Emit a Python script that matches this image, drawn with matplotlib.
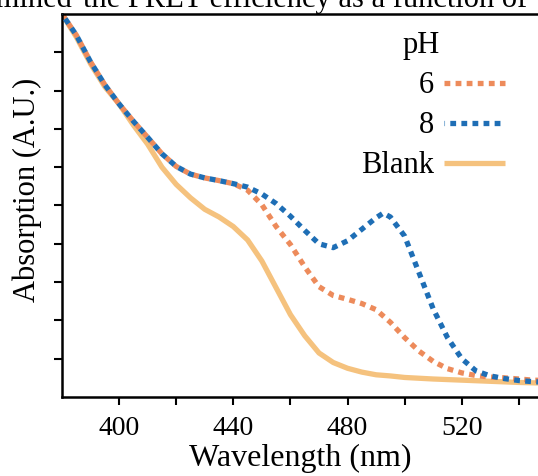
import numpy as np
import matplotlib
matplotlib.use("Agg")
import matplotlib.pyplot as plt

# wavelengths (nm) and absorption
wl6 = [380, 385, 390, 395, 400, 405, 410, 415, 420, 425, 430, 435, 440,
       445, 450, 455, 460, 465, 470, 475, 480, 485, 490, 495, 500,
       505, 510, 515, 520, 525, 530, 535, 540, 545, 550]
ph6 = [10.0, 9.45, 8.75, 8.15, 7.65, 7.2, 6.78, 6.35, 6.02, 5.82, 5.72, 5.65, 5.57,
       5.40, 5.02, 4.45, 3.98, 3.40, 2.88, 2.65, 2.55, 2.44, 2.28, 1.95, 1.55,
       1.20, 0.93, 0.74, 0.63, 0.56, 0.52, 0.50, 0.47, 0.44, 0.43]

wl8 = [380, 385, 390, 395, 400, 405, 410, 415, 420, 425, 430, 435, 440,
       445, 450, 455, 460, 465, 470, 475, 480, 485, 490, 492.5, 495, 500,
       505, 510, 515, 520, 525, 530, 535, 540, 545, 550]
ph8 = [10.0, 9.45, 8.75, 8.15, 7.65, 7.2, 6.78, 6.35, 6.02, 5.82, 5.72, 5.65, 5.57,
       5.48, 5.30, 5.05, 4.72, 4.35, 4.00, 3.90, 4.08, 4.38, 4.68, 4.80, 4.70, 4.20,
       3.25, 2.30, 1.55, 1.00, 0.68, 0.55, 0.48, 0.43, 0.40, 0.38]

wl_blank = [380, 385, 390, 395, 400, 405, 410, 415, 420, 425, 430, 435, 440,
            445, 450, 455, 460, 465, 470, 475, 480, 485, 490, 495, 500,
            510, 520, 530, 540, 550]
blank = [10.0, 9.4, 8.7, 8.1, 7.65, 7.1, 6.6, 6.0, 5.55, 5.2, 4.9, 4.7, 4.45,
         4.1, 3.55, 2.85, 2.15, 1.6, 1.15, 0.9, 0.75, 0.65, 0.58, 0.55, 0.51,
         0.47, 0.44, 0.41, 0.38, 0.36]

xticks = [400, 420, 440, 460, 480, 500, 520, 540]
xticklabels = ["400", "", "440", "", "480", "", "520", ""]

c6 = "#ED8B5B"
c8 = "#1E6EB5"
cb = "#F5C27E"

plt.rcParams["font.family"] = ["Liberation Serif", "DejaVu Serif"]

fig = plt.figure(figsize=(5.38, 4.76), dpi=100)
ax = fig.add_axes([62/538, 79/476, 476/538, 383/476])

ax.plot(wl_blank, blank, color=cb, lw=3.8, solid_capstyle="butt", label="Blank", zorder=1)
ax.plot(wl6, ph6, color=c6, lw=3.8, linestyle=(0, (1.1, 1.0)), dash_capstyle="butt", label="6", zorder=2)
ax.plot(wl8, ph8, color=c8, lw=3.8, linestyle=(1.0, (1.1, 1.0)), dash_capstyle="butt", label="8", zorder=3)

ax.set_xlim(380, 546.7)
ax.set_ylim(0, 10)
ax.set_xticks(xticks)
ax.set_xticklabels(xticklabels)
ax.set_yticks(np.arange(1, 10))
ax.set_yticklabels([])
ax.tick_params(direction="out", length=6, width=1.5, labelsize=20, pad=8)

ax.spines["right"].set_visible(False)
for s in ["left", "bottom", "top"]:
    ax.spines[s].set_linewidth(1.8)

ax.set_xlabel("Wavelength (nm)", fontsize=23, labelpad=2)
ax.set_ylabel("Absorption (A.U.)", fontsize=22)
ax.yaxis.set_label_coords(-0.042, 0.54)

h, l = ax.get_legend_handles_labels()
order = [1, 2, 0]
ax.legend([h[i] for i in order], [l[i] for i in order], loc="upper right",
          bbox_to_anchor=(0.962, 0.89), frameon=False, markerfirst=False,
          fontsize=22, handlelength=2.0, handletextpad=0.3, labelspacing=0.36,
          borderpad=0)
ax.text(0.794, 0.919, "pH", transform=ax.transAxes, ha="right", va="center", fontsize=22)

# paper text above the figure, cut off at the top edge
fig.text(73/538, 1 - 7/476, "determined", fontsize=22, ha="right", va="baseline")
fig.text(83/538, 1 - 7/476, "the FRET efficiency as a function of", fontsize=22,
         ha="left", va="baseline")

fig.savefig("out.png", dpi=100)
